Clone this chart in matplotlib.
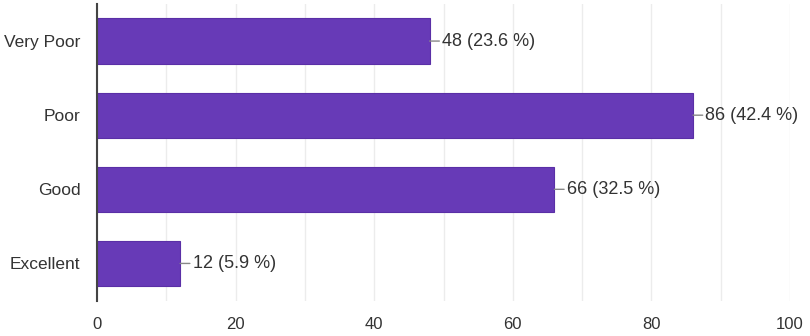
import numpy as np
import matplotlib.pyplot as plt

plt.rcParams['font.family'] = ['Liberation Sans', 'DejaVu Sans']

categories = ['Very Poor', 'Poor', 'Good', 'Excellent']
counts = [48, 86, 66, 12]
percents = [23.6, 42.4, 32.5, 5.9]

fig = plt.figure(figsize=(8.1, 3.36), dpi=100, facecolor='white')
ax = fig.add_axes([97 / 810, 1 - 300.5 / 336, 693 / 810, 296.5 / 336])

y = np.arange(len(categories))
ax.barh(y, counts, height=0.61, color='#673ab7', edgecolor='#5a2fa6', linewidth=0.8, zorder=3)

# value labels with short leader line
for yi, c, p in zip(y, counts, percents):
    ax.annotate(f'{c} ({p} %)', xy=(c, yi), xytext=(9, 0), textcoords='offset points',
                ha='left', va='center', fontsize=13, color='#333333',
                arrowprops=dict(arrowstyle='-', color='#888888', lw=1, shrinkA=0, shrinkB=0))

ax.set_xlim(0, 100)
ax.set_ylim(len(categories) - 0.5, -0.5)
ax.set_yticks(y)
ax.set_yticklabels(categories)
ax.set_xticks(np.arange(0, 101, 20))
ax.set_xticks(np.arange(0, 101, 10), minor=True)
ax.grid(axis='x', which='both', color='#ececec', linewidth=1, zorder=0)
ax.tick_params(axis='both', which='both', length=0, colors='#333333')
ax.tick_params(axis='y', labelsize=12.5, pad=12)
ax.tick_params(axis='x', labelsize=12, pad=12)

for s in ['top', 'right', 'bottom']:
    ax.spines[s].set_visible(False)
ax.spines['left'].set_color('#444444')
ax.spines['left'].set_linewidth(1.5)
ax.spines['left'].set_zorder(4)

plt.savefig('out.png', dpi=100)
